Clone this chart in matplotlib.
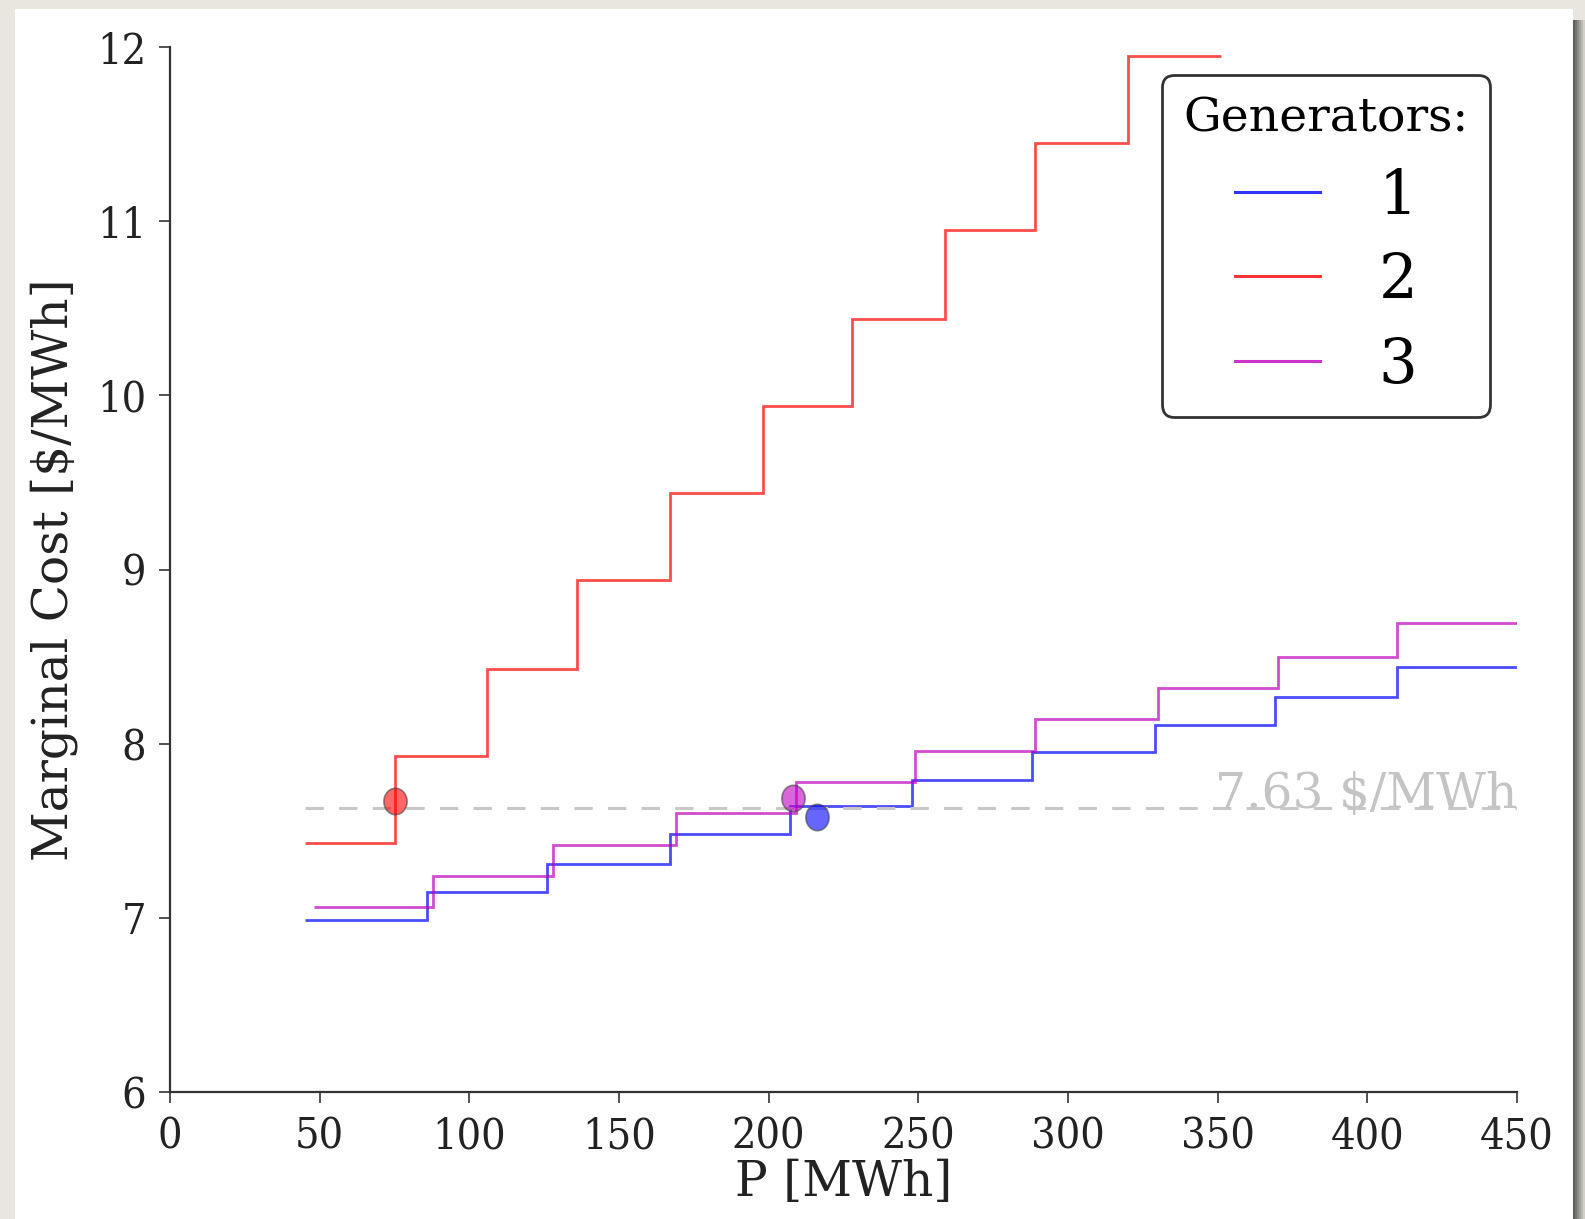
import numpy as np
import matplotlib
matplotlib.use("Agg")
import matplotlib.pyplot as plt
from matplotlib.patches import Rectangle
from matplotlib.path import Path

# Paliers de coût marginal (bords en MWh, niveaux en $/MWh)
gen1_edges = [45, 86, 126, 167, 207, 248, 288, 329, 369, 410, 450]
gen1_cost = [6.99, 7.15, 7.31, 7.48, 7.64, 7.79, 7.95, 8.11, 8.27, 8.44]

gen2_edges = [45, 75, 106, 136, 167, 198, 228, 259, 289, 320, 351]
gen2_cost = [7.43, 7.93, 8.43, 8.94, 9.44, 9.94, 10.44, 10.95, 11.45, 11.95]

gen3_edges = [48, 88, 128, 169, 209, 249, 289, 330, 370, 410, 450]
gen3_cost = [7.06, 7.24, 7.42, 7.60, 7.78, 7.96, 8.14, 8.32, 8.50, 8.69]

# Points de fonctionnement
op_p = [216, 75, 208]
op_cost = [7.58, 7.67, 7.69]

price = 7.63
price_span = [45, 450]
labels = ["1", "2", "3"]
colors = ["blue", "red", "m"]

W, H = 1585, 1219
fig = plt.figure(figsize=(W / 100, H / 100), dpi=100)
fig.patch.set_facecolor("#e9e6df")

# cadre blanc + ombre a droite (capture d'ecran)
fig.patches.append(Rectangle((15 / W, 0), (1573 - 15) / W, (H - 9) / H,
                             transform=fig.transFigure, facecolor="white",
                             edgecolor="none", zorder=-10))
shade = ["#5f5d59", "#75736f", "#8c8a85", "#a4a29c", "#bcbab4", "#d2d0c9"]
for i, c in enumerate(shade):
    fig.patches.append(Rectangle(((1573 + 2 * i) / W, 0), 2 / W, (H - 20) / H,
                                 transform=fig.transFigure, facecolor=c,
                                 edgecolor="none", zorder=-10))

ax = fig.add_axes([170 / W, 1 - 1092 / H, (1517 - 170) / W, (1092 - 47) / H])
ax.set_facecolor("none")

serif = "DejaVu Serif"

for edges, cost, col, lab in zip([gen1_edges, gen2_edges, gen3_edges],
                                 [gen1_cost, gen2_cost, gen3_cost], colors, labels):
    ax.stairs(cost, edges, baseline=None, color=col, alpha=0.7, linewidth=2,
              label=lab, zorder=2)

# ligne de prix
ax.hlines(price, price_span[0], price_span[1], colors="#c8c8c8", linewidth=2.2,
          linestyles=(0, (6, 5)), zorder=3)
ax.text(price_span[1], price, f"{price:.2f} $/MWh", ha="right", va="baseline",
        color="#c4c4c4", fontsize=35, family=serif, zorder=3)

theta = np.linspace(0, 2 * np.pi, 60)
ell = Path(np.column_stack([0.88 * np.cos(theta), np.sin(theta)]), closed=True)
for p, c, col in zip(op_p, op_cost, colors):
    ax.plot(p, c, marker=ell, markersize=19, color=col, alpha=0.6,
            markeredgecolor="#444444", markeredgewidth=1.2, linestyle="none", zorder=4)

ax.set_xlim(0, 450)
ax.set_ylim(6, 12)
ax.set_xticks(range(0, 451, 50))
ax.set_yticks(range(6, 13))

for s in ["top", "right"]:
    ax.spines[s].set_visible(False)
for s in ["left", "bottom"]:
    ax.spines[s].set_linewidth(1.6)
    ax.spines[s].set_color("#333333")

ax.tick_params(length=8, width=1.2, color="#333333", pad=9, labelsize=31,
               labelcolor="#222222")
for t in ax.get_xticklabels() + ax.get_yticklabels():
    t.set_family(serif)
    t.set_stretch("condensed")

ax.set_xlabel("P [MWh]", fontsize=35, family=serif, color="#222222", labelpad=1)
ax.set_ylabel("Marginal Cost [$/MWh]", fontsize=35, family=serif, color="#222222",
              labelpad=14)

leg = ax.legend(title="Generators:", loc="upper right", bbox_to_anchor=(0.98, 0.973),
                borderaxespad=0, handlelength=1.4, handletextpad=0.95,
                labelspacing=0.4, borderpad=0.35, frameon=True, fancybox=True,
                framealpha=1, prop={"family": serif, "size": 44}, title_fontsize=34)
leg.get_title().set_family(serif)
leg.get_frame().set_edgecolor("#333333")
leg.get_frame().set_linewidth(2)
for h in leg.get_lines():
    h.set_linewidth(2.2)
    h.set_alpha(0.8)

fig.savefig("out.png", dpi=100, facecolor=fig.get_facecolor())
